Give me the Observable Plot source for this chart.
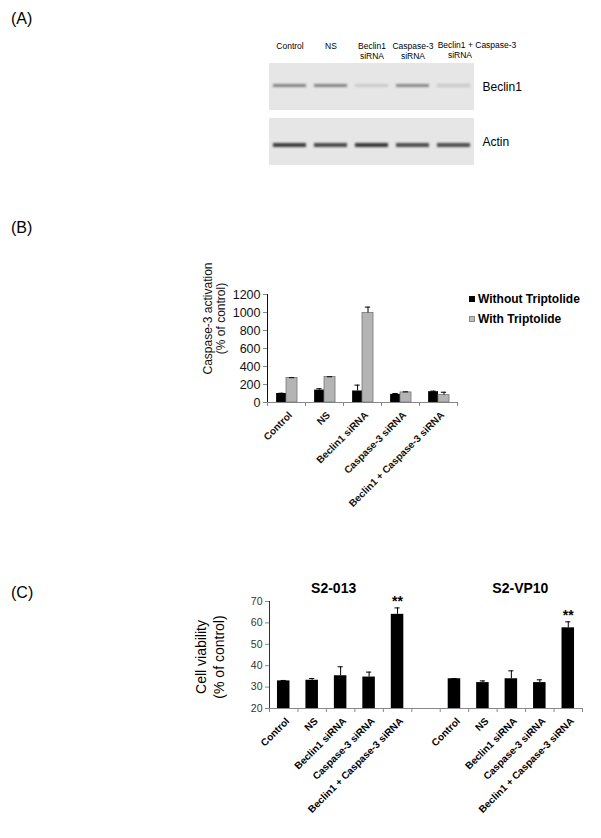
<!DOCTYPE html>
<html>
<head>
<meta charset="utf-8">
<script src="https://cdn.jsdelivr.net/npm/d3@7"></script>
<script src="https://cdn.jsdelivr.net/npm/@observablehq/plot@0.6"></script>
<style>
  html, body { margin: 0; padding: 0; background: #fff; }
  #root { position: relative; width: 601px; height: 838px; overflow: hidden; font-family: "Liberation Sans", Arial, sans-serif; color: #000; }
  .panel { position: absolute; font-size: 16px; line-height: 16px; }
  .legend { position: absolute; left: 469px; top: 289px; font-weight: bold; font-size: 12px; line-height: 20px; }
  .legend span.sw { display: inline-block; width: 6px; height: 6px; margin-right: 3px; vertical-align: 1px; box-sizing: border-box; }
</style>
</head>
<body>
<div id="root">
  <div class="panel" style="left:11px; top:11px;">(A)</div>
  <div class="panel" style="left:11px; top:220px;">(B)</div>
  <div class="panel" style="left:11px; top:585px;">(C)</div>
  <div class="legend">
    <div><span class="sw" style="background:#000;"></span>Without Triptolide</div>
    <div><span class="sw" style="background:#bdbdbd; border:1px solid #888;"></span>With Triptolide</div>
  </div>
</div>
<script>
// ---------- Data ----------
// Panel A: western blot
const blotLanes = ["Control", "NS", "Beclin1 siRNA", "Caspase-3 siRNA", "Beclin1 + Caspase-3 siRNA"];
const blotLine1 = ["Control", "NS", "Beclin1", "Caspase-3", "Beclin1 + Caspase-3"];
const blotLine2 = ["", "", "siRNA", "siRNA", "siRNA"];
const blotProteins = ["Beclin1", "Actin"];
const beclinIntensity = [0.50, 0.50, 0.12, 0.48, 0.16];
const actinIntensity = [0.85, 0.80, 0.88, 0.75, 0.78];

// Panel B: caspase-3 activation
const bCategories = ["Control", "NS", "Beclin1 siRNA", "Caspase-3 siRNA", "Beclin1 + Caspase-3 siRNA"];
const withoutTriptolide = [100, 138, 128, 90, 120];
const withoutTriptolideErr = [3, 15, 65, 10, 6];
const withTriptolide = [272, 283, 995, 112, 82];
const withTriptolideErr = [4, 3, 65, 6, 32];
const bTicks = [0, 200, 400, 600, 800, 1000, 1200];

// Panel C: cell viability
const cCategories = ["Control", "NS", "Beclin1 siRNA", "Caspase-3 siRNA", "Beclin1 + Caspase-3 siRNA"];
const cGroups = ["S2-013", "S2-VP10"];
const s2013 = [32.9, 33.2, 35.3, 34.7, 64.0];
const s2013Err = [0.2, 0.8, 4.2, 2.3, 3.0];
const s2vp10 = [33.9, 32.1, 33.9, 32.1, 57.7];
const s2vp10Err = [0.1, 0.8, 3.7, 1.3, 2.8];
const significance = ["", "", "", "", "**"];

const FONT = "Liberation Sans, Arial, sans-serif";
const root = document.getElementById("root");
function place(svg, top) {
  svg.style.position = "absolute";
  svg.style.left = "0px";
  svg.style.top = top + "px";
  svg.style.overflow = "visible";
  root.appendChild(svg);
}
function grayAxes(svg, color) {
  svg.querySelectorAll('g[aria-label^="y-axis"] path, g[aria-label^="y-axis"] line, g[aria-label^="x-axis"] path, g[aria-label^="x-axis"] line')
    .forEach(el => el.setAttribute("stroke", color));
}

// ---------- Panel A ----------
const lanes = blotLanes.map((lane, i) => ({lane, i, l1: blotLine1[i], l2: blotLine2[i], beclin: beclinIntensity[i], actin: actinIntensity[i]}));
const cells = [];
for (const p of blotProteins) for (const l of lanes) cells.push({lane: l.lane, protein: p});

const svgA = Plot.plot({
  width: 601, height: 175,
  marginLeft: 267, marginRight: 126, marginTop: 63, marginBottom: 9,
  style: {fontFamily: FONT, background: "transparent"},
  x: {domain: blotLanes, axis: null, padding: 0},
  y: {domain: blotProteins, axis: null, paddingInner: 0.144, paddingOuter: 0},
  marks: [
    Plot.cell(cells, {x: "lane", y: "protein", fill: "#e6e6e6"}),
    Plot.cell(lanes, {x: "lane", y: () => "Beclin1", fill: "#1e1e1e", fillOpacity: "beclin", insetTop: 21, insetBottom: 23, insetLeft: 4, insetRight: 4}),
    Plot.cell(lanes, {x: "lane", y: () => "Actin", fill: "#1e1e1e", fillOpacity: "actin", insetTop: 25, insetBottom: 18, insetLeft: 4, insetRight: 4}),
    Plot.text(lanes.slice(0, 4), {x: "lane", text: d => d.l2 ? d.l1 + "\n" + d.l2 : d.l1, frameAnchor: "top", lineAnchor: "top", dy: -22, fontSize: 8.5, lineHeight: 1.18}),
    Plot.text(lanes.slice(4), {x: "lane", text: "l1", frameAnchor: "top", lineAnchor: "top", dy: -22, dx: 23, fontSize: 8.5}),
    Plot.text(lanes.slice(4), {x: "lane", text: "l2", frameAnchor: "top", lineAnchor: "top", dy: -12, dx: 6, fontSize: 8.5}),
    Plot.text(blotProteins, {y: d => d, text: d => d, frameAnchor: "right", textAnchor: "start", dx: 7, fontSize: 12})
  ]
});
{
  const defs = d3.select(svgA).append("defs");
  defs.append("filter").attr("id", "blotblur").attr("x", "-20%").attr("y", "-100%").attr("width", "140%").attr("height", "300%")
    .append("feGaussianBlur").attr("stdDeviation", 0.9);
  const gs = svgA.querySelectorAll('g[aria-label="cell"]');
  if (gs[1]) gs[1].setAttribute("filter", "url(#blotblur)");
  if (gs[2]) gs[2].setAttribute("filter", "url(#blotblur)");
}
place(svgA, 0);

// ---------- Panel B ----------
const bRows = bCategories.map((c, i) => ({c, i, wo: withoutTriptolide[i], woErr: withoutTriptolideErr[i], w: withTriptolide[i], wErr: withTriptolideErr[i]}));
const svgB = Plot.plot({
  width: 601, height: 290,
  marginLeft: 267, marginRight: 144, marginTop: 44, marginBottom: 138,
  style: {fontFamily: FONT, fontSize: "12.5px", background: "transparent", color: "#111"},
  x: {domain: [0, bCategories.length], ticks: bCategories.length, tickSize: 4, tickFormat: () => "", label: null},
  y: {domain: [0, 1200], ticks: bTicks.length - 1, tickSize: 4, tickPadding: 3, tickFormat: d3.format("d"), line: true, label: null},
  marks: [
    Plot.ruleY([0], {stroke: "#888"}),
    Plot.rect(bRows, {x1: d => d.i + 0.24, x2: d => d.i + 0.5, y1: () => 0, y2: "wo", fill: "#000"}),
    Plot.rect(bRows, {x1: d => d.i + 0.5, x2: d => d.i + 0.79, y1: () => 0, y2: "w", fill: "#b4b4b4", stroke: "#777", strokeWidth: 0.8}),
    Plot.ruleX(bRows, {x: d => d.i + 0.37, y1: "wo", y2: d => d.wo + d.woErr, stroke: "#000"}),
    Plot.ruleY(bRows, {y: d => d.wo + d.woErr, x1: d => d.i + 0.3, x2: d => d.i + 0.44, stroke: "#000"}),
    Plot.ruleX(bRows, {x: d => d.i + 0.645, y1: "w", y2: d => d.w + d.wErr, stroke: "#000"}),
    Plot.ruleY(bRows, {y: d => d.w + d.wErr, x1: d => d.i + 0.575, x2: d => d.i + 0.715, stroke: "#000"}),
    Plot.text(bRows, {x: d => d.i + 0.5, y: () => 0, text: "c", rotate: -45, textAnchor: "end", dy: 11, dx: 4, fontSize: 10, fontWeight: "bold"}),
    Plot.text(["Caspase-3 activation\n(% of control)"], {frameAnchor: "left", textAnchor: "middle", rotate: -90, dx: -53, dy: -30, fontSize: 12, lineHeight: 1.02})
  ]
});
grayAxes(svgB, "#888");
place(svgB, 250);

// ---------- Panel C ----------
const gap = 1;
const cRows = [];
cCategories.forEach((c, i) => cRows.push({c, pos: i, v: s2013[i], e: s2013Err[i], s: significance[i], g: cGroups[0]}));
cCategories.forEach((c, i) => cRows.push({c, pos: i + cCategories.length + gap, v: s2vp10[i], e: s2vp10Err[i], s: significance[i], g: cGroups[1]}));
const nSlots = cCategories.length * 2 + gap;
const groupCenters = cGroups.map((g) => ({g, x: d3.mean(cRows.filter(r => r.g === g), r => r.pos) + 0.5}));

const svgC = Plot.plot({
  width: 601, height: 278,
  marginLeft: 269, marginRight: 19, marginTop: 41, marginBottom: 130,
  style: {fontFamily: FONT, fontSize: "10.5px", background: "transparent", color: "#333"},
  x: {domain: [0, nSlots], ticks: nSlots, tickSize: 4, tickFormat: () => "", label: null},
  y: {domain: [20, 70], ticks: 5, tickSize: 4, tickPadding: 3, line: true, label: null},
  marks: [
    Plot.ruleY([20], {stroke: "#888"}),
    Plot.rect(cRows, {x1: d => d.pos + 0.28, x2: d => d.pos + 0.72, y1: () => 20, y2: "v", fill: "#000"}),
    Plot.ruleX(cRows, {x: d => d.pos + 0.5, y1: "v", y2: d => d.v + d.e, stroke: "#000"}),
    Plot.ruleY(cRows, {y: d => d.v + d.e, x1: d => d.pos + 0.41, x2: d => d.pos + 0.59, stroke: "#000"}),
    Plot.text(cRows, {x: d => d.pos + 0.5, y: d => d.v + d.e, text: "s", dy: -6, fontSize: 14, fontWeight: "bold", fill: "#000"}),
    Plot.text(cRows, {x: d => d.pos + 0.5, y: () => 20, text: "c", rotate: -45, textAnchor: "end", dy: 11, dx: 4, fontSize: 10, fontWeight: "bold", fill: "#000"}),
    Plot.text(groupCenters.slice(0, 1), {x: "x", text: "g", frameAnchor: "top", dy: -18, dx: -7, fontSize: 14, fontWeight: "bold", fill: "#000"}),
    Plot.text(groupCenters.slice(1), {x: "x", text: "g", frameAnchor: "top", dy: -18, dx: 9, fontSize: 14, fontWeight: "bold", fill: "#000"}),
    Plot.text(["Cell viability\n(% of control)"], {frameAnchor: "left", textAnchor: "middle", rotate: -90, dx: -60, dy: 2, fontSize: 14, lineHeight: 1.28, fill: "#000"})
  ]
});
grayAxes(svgC, "#888");
place(svgC, 560);
</script>
</body>
</html>
